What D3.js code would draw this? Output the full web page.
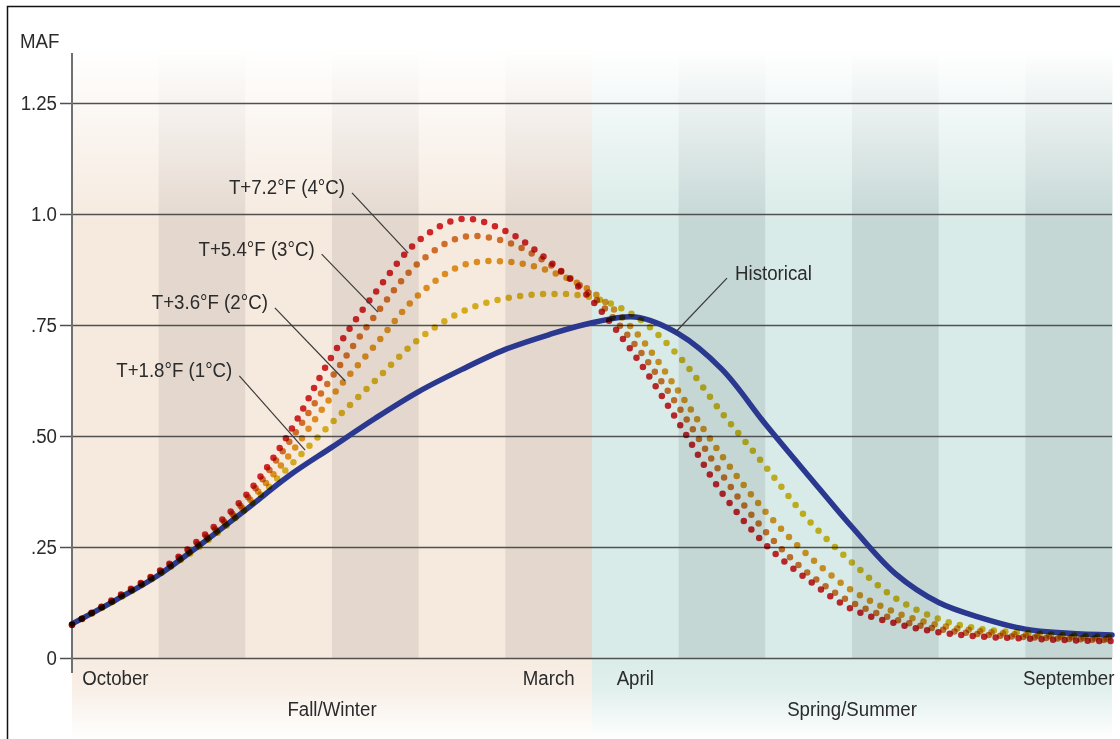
<!DOCTYPE html>
<html>
<head>
<meta charset="utf-8">
<script src="https://cdn.jsdelivr.net/npm/d3@7"></script>
<style>
body { margin: 0; background: #fff; }
text { font-family: "Liberation Sans Narrow", "Arial Narrow", "Liberation Sans", sans-serif; fill: #2b2b2b;
       transform-box: fill-box; transform: scaleX(0.89); }
.a-end { transform-origin: right center; }
.a-mid { transform-origin: center center; }
.a-start { transform-origin: left center; }
</style>
</head>
<body>
<svg id="chart"></svg>
<script>
var width = 1120;
var height = 739;

// data (half-month steps, 0 = start of October)
var monthPos = [0,0.5,1,1.5,2,2.5,3,3.5,4,4.5,5,5.5,6,6.5,7,7.5,8,8.5,9,9.5,10,10.5,11,11.5,12];
var historical = [0.077,0.13,0.187,0.258,0.333,0.41,0.475,0.54,0.6,0.65,0.695,0.728,0.755,0.768,0.73,0.65,0.527,0.41,0.295,0.19,0.125,0.09,0.065,0.056,0.052];
var plus1C = [0.075,0.13,0.188,0.255,0.335,0.43,0.53,0.625,0.718,0.78,0.81,0.82,0.812,0.77,0.68,0.552,0.432,0.31,0.215,0.135,0.088,0.065,0.057,0.051,0.047];
var plus2C = [0.075,0.132,0.19,0.26,0.345,0.455,0.59,0.705,0.818,0.884,0.893,0.872,0.825,0.735,0.6,0.455,0.33,0.23,0.152,0.103,0.074,0.06,0.052,0.047,0.043];
var plus3C = [0.075,0.133,0.193,0.265,0.355,0.485,0.633,0.772,0.89,0.948,0.938,0.888,0.816,0.705,0.565,0.413,0.285,0.19,0.125,0.087,0.065,0.053,0.047,0.043,0.04];
var plus4C = [0.075,0.135,0.195,0.272,0.365,0.505,0.68,0.823,0.94,0.989,0.962,0.895,0.805,0.68,0.53,0.372,0.256,0.175,0.11,0.078,0.058,0.048,0.044,0.04,0.038];

var months = ["October","November","December","January","February","March","April","May","June","July","August","September"];
var shownMonths = ["October","March","April","September"];
var seasons = ["Fall/Winter","Spring/Summer"];
var yTicks = [0,0.25,0.5,0.75,1.0,1.25];
var yTickLabels = ["0",".25",".50",".75","1.0","1.25"];

var scenarios = [
  {name:"T+1.8°F (1°C)", values:plus1C, color:"#dcbb22", at:2.69, lx:1.85, ly:0.649},
  {name:"T+3.6°F (2°C)", values:plus2C, color:"#e49a26", at:3.15, lx:2.26, ly:0.802},
  {name:"T+5.4°F (3°C)", values:plus3C, color:"#d8772e", at:3.53, lx:2.80, ly:0.923},
  {name:"T+7.2°F (4°C)", values:plus4C, color:"#d62a2e", at:3.88, lx:3.15, ly:1.061}
];

var x = d3.scaleLinear().domain([0,12]).range([72,1112]);
var y = d3.scaleLinear().domain([0,1.25]).range([658,103]);
var xBand = d3.scaleBand().domain(months).range([72,1112]);
var xSeason = d3.scaleBand().domain(seasons).range([72,1112]);

var svg = d3.select("#chart").attr("width", width).attr("height", height);
var defs = svg.append("defs");

var fadeTop = defs.append("linearGradient").attr("id","fadeTop")
  .attr("x1",0).attr("y1",0).attr("x2",0).attr("y2",1);
fadeTop.append("stop").attr("offset","0%").attr("stop-color","#fff").attr("stop-opacity",1);
fadeTop.append("stop").attr("offset","100%").attr("stop-color","#fff").attr("stop-opacity",0);

var fadeBottom = defs.append("linearGradient").attr("id","fadeBottom")
  .attr("x1",0).attr("y1",0).attr("x2",0).attr("y2",1);
fadeBottom.append("stop").attr("offset","0%").attr("stop-color","#fff").attr("stop-opacity",0);
fadeBottom.append("stop").attr("offset","35%").attr("stop-color","#fff").attr("stop-opacity",0.15);
fadeBottom.append("stop").attr("offset","100%").attr("stop-color","#fff").attr("stop-opacity",1);

// month bands
var bandColor = function(d, i) {
  var warm = i < 6;
  var dark = i % 2 == 1;
  if (warm) return dark ? "#e4d8ce" : "#f6eadf";
  return dark ? "#c4d7d5" : "#d9ebe8";
};
svg.append("g").selectAll("rect")
  .data(months).enter().append("rect")
  .attr("x", function(d){ return xBand(d); })
  .attr("width", xBand.bandwidth() + 0.5)
  .attr("y", 50)
  .attr("height", y(0) - 50)
  .attr("fill", bandColor);

svg.append("g").selectAll("rect")
  .data(seasons).enter().append("rect")
  .attr("x", function(d){ return xSeason(d); })
  .attr("width", xSeason.bandwidth())
  .attr("y", y(0))
  .attr("height", 80)
  .attr("fill", function(d, i){ return i == 0 ? "#f7ece2" : "#dbede9"; });

svg.append("rect").attr("x", 60).attr("y", 48).attr("width", 1062).attr("height", 175)
  .attr("fill", "url(#fadeTop)");
svg.append("rect").attr("x", 60).attr("y", y(0) + 2).attr("width", 1062).attr("height", 80)
  .attr("fill", "url(#fadeBottom)");

// gridlines + tick labels
var yAxis = d3.axisLeft(y)
  .tickValues(yTicks)
  .tickSize(-(1112 - 60))
  .tickPadding(3)
  .tickFormat(function(d, i){ return yTickLabels[i]; });
var gy = svg.append("g").attr("transform", "translate(60,0)").call(yAxis);
gy.select(".domain").remove();
gy.selectAll(".tick line").attr("stroke", "#505050").attr("stroke-width", 1.5);
gy.selectAll(".tick text").attr("font-size", 21).attr("fill", "#2b2b2b")
  .attr("class", "a-end").style("font-family", null);

// vertical axis line
svg.append("line")
  .attr("x1", 72).attr("x2", 72).attr("y1", 53).attr("y2", 673)
  .attr("stroke", "#707070").attr("stroke-width", 2);

svg.append("text").attr("class", "a-start").attr("x", 20).attr("y", 48).attr("font-size", 21).text("MAF");

// month labels
var xAxis = d3.axisBottom(xBand)
  .tickSize(0)
  .tickPadding(12)
  .tickFormat(function(d){ return shownMonths.indexOf(d) >= 0 ? d : ""; });
var gx = svg.append("g").attr("transform", "translate(0," + y(0) + ")").call(xAxis);
gx.select(".domain").remove();
gx.selectAll(".tick text").attr("font-size", 21).attr("fill", "#2b2b2b").attr("class", "a-mid");

svg.append("g").selectAll("text")
  .data(seasons).enter().append("text")
  .attr("class", "a-mid")
  .attr("x", function(d){ return xSeason(d) + xSeason.bandwidth() / 2; })
  .attr("y", 716)
  .attr("text-anchor", "middle")
  .attr("font-size", 21)
  .text(function(d){ return d; });

// curves
var line = d3.line()
  .x(function(d, i){ return x(monthPos[i]); })
  .y(function(d){ return y(d); })
  .curve(d3.curveCatmullRom.alpha(0.5));

svg.append("path")
  .datum(historical)
  .attr("d", line)
  .attr("fill", "none")
  .attr("stroke", "#2a3890")
  .attr("stroke-width", 5.5)
  .attr("stroke-linecap", "round");

svg.append("g").selectAll("path")
  .data(scenarios).enter().append("path")
  .attr("d", function(d){ return line(d.values); })
  .attr("fill", "none")
  .attr("stroke", function(d){ return d.color; })
  .attr("stroke-width", 6.5)
  .attr("stroke-linecap", "round")
  .attr("stroke-dasharray", "0 11.5")
  .style("mix-blend-mode", "multiply");

// annotations
function valueAt(values, m) {
  var i = Math.min(Math.floor(m / 0.5), values.length - 2);
  var t = (m - monthPos[i]) / 0.5;
  return values[i] + (values[i + 1] - values[i]) * t;
}

var ann = svg.append("g");
scenarios.forEach(function(s){
  var tx = x(s.lx), ty = y(s.ly);
  ann.append("text")
    .attr("class", "a-end")
    .attr("x", tx).attr("y", ty).attr("dy", "0.35em")
    .attr("text-anchor", "end")
    .attr("font-size", 21)
    .text(s.name);
  ann.append("line")
    .attr("x1", tx + 7).attr("y1", ty + 6)
    .attr("x2", x(s.at)).attr("y2", y(valueAt(s.values, s.at)))
    .attr("stroke", "#3a3a3a").attr("stroke-width", 1.2);
});

var hx = x(7.65), hy = y(0.869);
ann.append("text")
  .attr("class", "a-start")
  .attr("x", hx).attr("y", hy).attr("dy", "0.35em")
  .attr("font-size", 21)
  .text("Historical");
ann.append("line")
  .attr("x1", hx - 8).attr("y1", hy + 6)
  .attr("x2", x(6.96)).attr("y2", y(valueAt(historical, 6.96)))
  .attr("stroke", "#3a3a3a").attr("stroke-width", 1.2);

// frame
svg.append("path")
  .attr("d", "M7.5," + height + "V6.5H" + width)
  .attr("fill", "none")
  .attr("stroke", "#111")
  .attr("stroke-width", 1.5);
</script>
</body>
</html>
